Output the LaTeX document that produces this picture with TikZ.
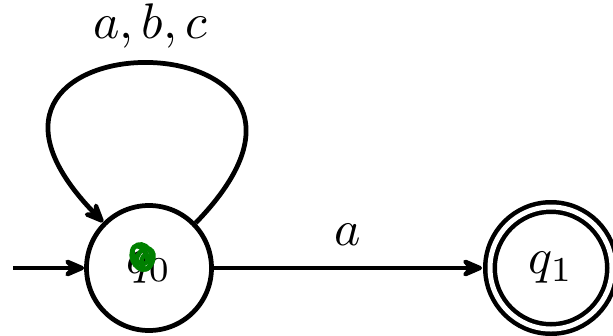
\documentclass[tikz,border=0pt]{standalone}
\usetikzlibrary{arrows.meta}
\begin{document}
\begin{tikzpicture}[x=0.2pt,y=0.2pt,
  >={Stealth[length=5.6pt,width=4.8pt,inset=2.2pt,round]},
  every path/.style={line width=0.95pt},
  stateq/.style={circle,draw,line width=0.95pt,minimum size=25pt,inner sep=0pt},
  acceptq/.style={circle,draw,line width=0.9pt,double,double distance=1pt,minimum size=24.4pt,inner sep=0pt,outer sep=1.6pt},
  scrib/.style={draw=green!50!black,line width=0.9pt}]
\useasboundingbox (0,0) rectangle (613,335);
\node[stateq] (q0) at (149,67) {$q_0$};
\node[acceptq] (q1) at (551,67) {$q_1$};
\coordinate (init) at (13,67);
\draw[->] (init) -- (q0);
\draw[->] (q0) -- node[above=0.7pt] (la) {$a$} (q1);
\draw[->] (q0.44) .. controls +(206,212) and +(-206,212) .. (q0.135);
\node (lloop) at (150,309.5) {$a,b,c$};
\draw[scrib] (142,78) ellipse [x radius=10, y radius=13, rotate=20];
\draw[scrib] (145,76) ellipse [x radius=8, y radius=11, rotate=-25];
\draw[scrib] (140,80) ellipse [x radius=6, y radius=10, rotate=35];
\draw[scrib] (146,73) ellipse [x radius=4.5, y radius=7, rotate=0];
\end{tikzpicture}
\end{document}
